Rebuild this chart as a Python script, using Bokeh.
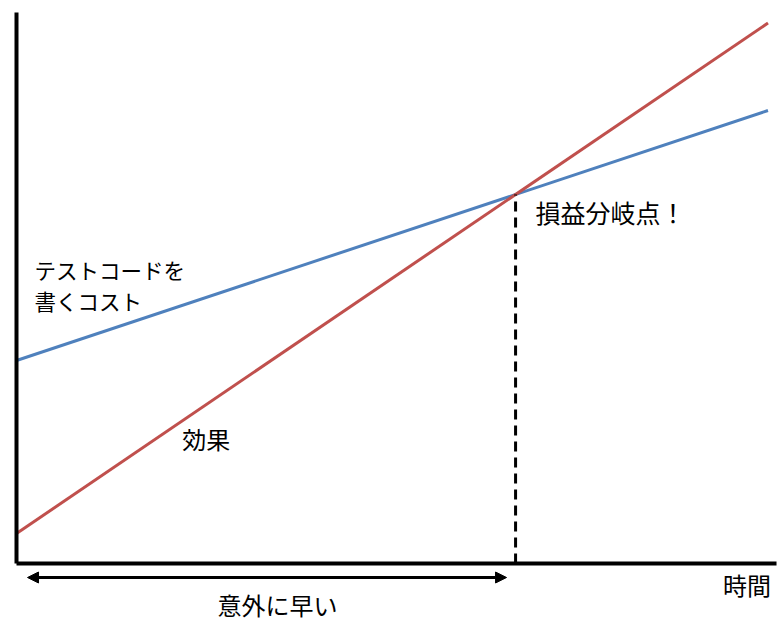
import numpy as np
from bokeh.plotting import figure
from bokeh.models import Range1d, Arrow, NormalHead
from bokeh.core.properties import value
from bokeh.embed import file_html
from bokeh.resources import INLINE

# --- data ---
time = [0, 15]
cost = [4.06, 9.06]      # テストコードを書くコスト
effect = [0.60, 10.81]   # 効果

label_breakeven = "損益分岐点！"
label_cost = ["テストコードを", "書くコスト"]
label_effect = "効果"
label_early = "意外に早い"
label_time = "時間"

# break-even point from the two lines
sc = (cost[1] - cost[0]) / (time[1] - time[0])
se = (effect[1] - effect[0]) / (time[1] - time[0])
t_be = (cost[0] - effect[0]) / (se - sc)
v_be = cost[0] + sc * t_be

FONT = value("Noto Sans CJK JP")

p = figure(width=783, height=621, output_backend="svg", toolbar_location=None,
           x_range=Range1d(-16 / 50.1, 767 / 50.1), y_range=Range1d(-58 / 50, 563 / 50),
           min_border=0)
p.axis.visible = False
p.grid.visible = False
p.outline_line_color = None
p.background_fill_color = "white"

p.line(time, cost, line_color="#4F81BD", line_width=3)
p.line(time, effect, line_color="#C0504D", line_width=3)

# dashed break-even marker
p.segment(x0=[t_be], y0=[0], x1=[t_be], y1=[v_be], line_color="black",
          line_width=3, line_dash="10 6")

# axes
p.segment(x0=[0, 0], y0=[0, 0], x1=[0, 15.17], y1=[11.02, 0],
          line_color="black", line_width=4)

# double arrow
p.add_layout(Arrow(x_start=0.22, y_start=-0.28, x_end=t_be - 0.18, y_end=-0.28,
                   line_color="black", line_width=3,
                   start=NormalHead(size=11, fill_color="black", line_color="black", line_width=1),
                   end=NormalHead(size=11, fill_color="black", line_color="black", line_width=1)))

def txt(x, y, s, size="24px"):
    p.text(x=[x], y=[y], text=[s], text_font=FONT, text_font_size=size,
           text_color="black", text_baseline="middle", text_align="left")

txt(t_be + 0.40, 7.03, label_breakeven, "25px")
txt(0.36, 5.88, label_cost[0], "21.5px")
txt(0.36, 5.26, label_cost[1], "21.5px")
txt(3.31, 2.5, label_effect)
txt(4.01, -0.82, label_early)
txt(14.1, -0.42, label_time)

open("out.html", "w").write(file_html(p, INLINE))
